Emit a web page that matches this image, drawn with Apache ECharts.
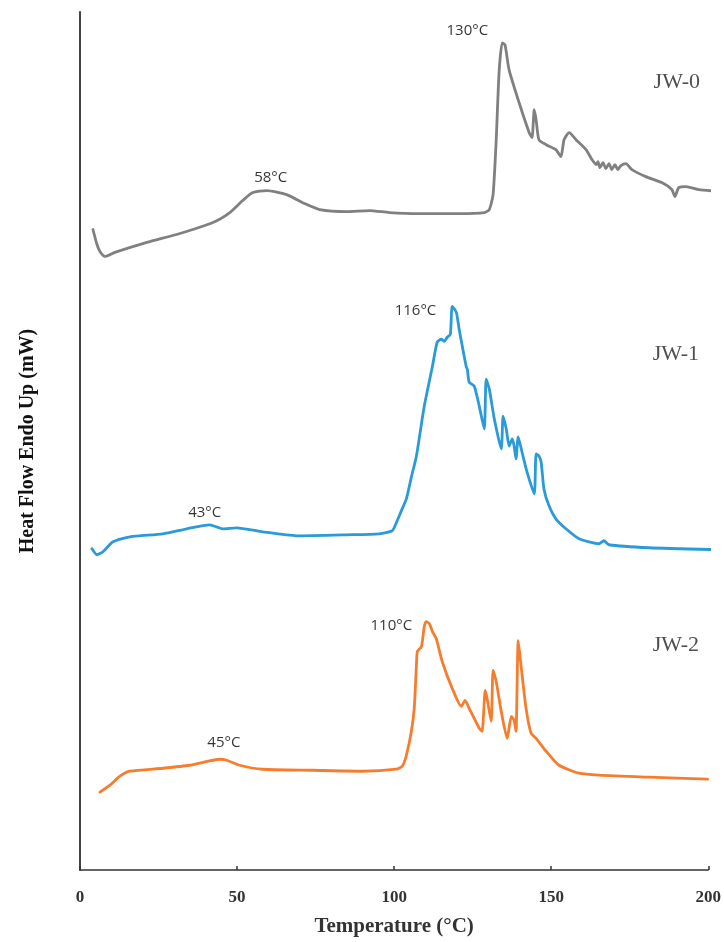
<!DOCTYPE html>
<html>
<head>
<meta charset="utf-8">
<script src="https://cdn.jsdelivr.net/npm/echarts@6/dist/echarts.min.js"></script>
<style>html,body{margin:0;padding:0;background:#fff}#c{width:724px;height:942px}</style>
</head>
<body>
<div id="c"></div>
<script>
// Temperature (°C) vs heat flow (arbitrary offset units, mW)
const jw0 = [
[4.13,64.2],[5.4,62.7],[6.35,62.0],[7.94,61.5],[11.1,61.9],[21.3,62.9],[31.8,63.8],[42.3,64.9],[47.7,65.9],[51.8,67.1],[55.0,67.9],[59.4,68.1],[65.8,67.7],[71.5,66.8],[76.3,66.2],[84.8,66.0],[92.1,66.1],[98.5,65.9],[108.0,65.8],[120.7,65.8],[128.7,65.9],[130.3,66.2],[131.5,67.7],[132.5,73.2],[133.4,79.9],[134.4,82.9],[135.3,82.7],[136.6,80.2],[139.8,76.9],[143.0,73.9],[143.9,73.4],[144.6,76.2],[145.2,75.2],[146.1,73.2],[148.4,72.7],[151.5,72.2],[153.1,71.5],[154.1,73.2],[155.7,73.9],[157.9,73.2],[161.1,72.2],[163.0,71.2],[164.3,70.7],[164.9,71.0],[165.5,70.4],[166.5,70.9],[167.4,70.3],[168.4,70.8],[169.3,70.2],[170.3,70.7],[171.2,70.2],[172.2,70.6],[173.8,70.8],[175.7,70.2],[180.1,69.5],[185.2,68.9],[188.4,68.2],[189.4,67.5],[190.6,68.4],[192.9,68.5],[197.0,68.2],[204.3,68.0]
];
const jw1 = [
[3.81,32.2],[5.4,31.6],[7.31,31.9],[10.5,32.9],[15.9,33.4],[26.4,33.7],[34.0,34.2],[41.3,34.6],[45.4,34.2],[49.9,34.3],[58.1,33.9],[68.9,33.5],[84.8,33.6],[95.3,33.7],[99.4,34.0],[100.7,34.8],[102.3,36.0],[103.9,37.2],[105.5,39.4],[107.1,41.5],[109.6,46.5],[112.2,50.5],[113.7,52.9],[115.0,53.2],[116.0,53.0],[116.9,53.4],[117.9,53.7],[118.5,56.5],[119.8,55.9],[120.7,54.2],[122.3,51.5],[123.0,50.4],[123.3,50.2],[123.9,48.9],[125.5,48.5],[127.1,46.5],[128.7,44.2],[129.3,49.2],[130.3,48.2],[131.9,45.2],[134.1,42.2],[134.7,45.5],[135.7,44.2],[136.6,42.5],[137.6,43.2],[138.2,42.5],[138.8,41.2],[139.5,43.4],[140.7,41.9],[142.3,39.9],[144.6,37.7],[145.2,41.7],[146.1,41.5],[146.8,40.9],[147.7,38.2],[149.3,36.5],[151.5,35.2],[154.7,34.2],[158.9,33.2],[165.2,32.7],[166.8,33.0],[168.4,32.6],[181.1,32.3],[204.3,32.1]
];
const jw2 = [
[6.35,7.8],[9.53,8.5],[12.7,9.4],[15.9,9.9],[26.4,10.2],[34.9,10.5],[44.5,11.1],[46.7,11.0],[50.8,10.5],[58.1,10.1],[74.0,10.0],[89.9,9.9],[100.7,10.1],[102.6,10.4],[103.9,11.5],[105.5,13.9],[106.4,16.2],[107.1,20.5],[107.4,21.9],[108.7,22.4],[109.6,24.4],[110.2,24.9],[111.2,24.7],[112.2,23.9],[113.4,23.2],[115.3,20.9],[118.5,18.2],[121.4,16.4],[122.6,17.0],[123.9,16.2],[127.1,14.2],[128.0,13.9],[129.0,18.0],[129.6,17.2],[130.9,14.9],[131.5,20.0],[132.5,18.9],[134.1,15.9],[136.0,13.2],[137.3,15.4],[138.2,15.0],[138.8,13.9],[139.5,23.0],[140.4,20.5],[142.0,16.2],[143.6,13.7],[145.2,13.2],[148.4,11.9],[152.5,10.5],[158.9,9.7],[165.2,9.5],[181.1,9.3],[199.8,9.1]
];
const peakLabels = [
  {name:'130°C', value:[123.3,84.1]},
  {name:'58°C', value:[60.7,69.4]},
  {name:'116°C', value:[106.8,56.1]},
  {name:'43°C', value:[39.7,35.8]},
  {name:'110°C', value:[99.1,24.5]},
  {name:'45°C', value:[45.8,12.8]}
];
const seriesLabels = [
  {name:'JW-0', value:[190.0,79.0]},
  {name:'JW-1', value:[189.7,51.7]},
  {name:'JW-2', value:[189.7,22.5]}
];
const xTicks = [0,50,100,150,200];

const chart = echarts.init(document.getElementById('c'), null, {renderer:'canvas'});
const lineStyle = (c)=>({color:c, width:2.8, join:'round', cap:'round'});
const lineBase = {type:'line', showSymbol:false, clip:false, smooth:0.2};
chart.setOption({
  animation:false,
  backgroundColor:'#fff',
  grid:{left:80, right:15, top:12, bottom:70},
  xAxis:{
    type:'value', min:0, max:200, interval:50,
    name:'Temperature (°C)', nameLocation:'middle', nameGap:46,
    nameTextStyle:{fontFamily:'Liberation Serif', fontWeight:'bold', fontSize:21, color:'#333'},
    axisLine:{lineStyle:{color:'#333', width:1.5}},
    axisTick:{show:true, inside:true, length:4, lineStyle:{color:'#333', width:1.5}},
    axisLabel:{fontFamily:'Liberation Serif', fontWeight:'bold', fontSize:17, color:'#333', margin:19,
      formatter:(v)=>xTicks.includes(v)?String(v):''},
    splitLine:{show:false}
  },
  yAxis:{
    type:'value', min:0, max:86,
    name:'Heat Flow Endo Up (mW)', nameLocation:'middle', nameGap:42,
    nameTextStyle:{fontFamily:'Liberation Serif', fontWeight:'bold', fontSize:20, color:'#111'},
    axisLine:{show:true, lineStyle:{color:'#444', width:2}},
    axisTick:{show:false}, axisLabel:{show:false}, splitLine:{show:false}
  },
  series:[
    Object.assign({data:jw0, lineStyle:lineStyle('#808080')}, lineBase),
    Object.assign({data:jw1, lineStyle:lineStyle('#2a9ad8')}, lineBase),
    Object.assign({data:jw2, lineStyle:lineStyle('#f67d2e')}, lineBase),
    {type:'scatter', data:peakLabels, symbolSize:0, clip:false,
      label:{show:true, position:'inside', formatter:'{b}', fontFamily:'Open Sans', fontSize:15, color:'#000'}},
    {type:'scatter', data:seriesLabels, symbolSize:0, clip:false,
      label:{show:true, position:'inside', formatter:'{b}', fontFamily:'Liberation Serif', fontSize:22, color:'#222'}}
  ]
});
</script>
</body>
</html>
